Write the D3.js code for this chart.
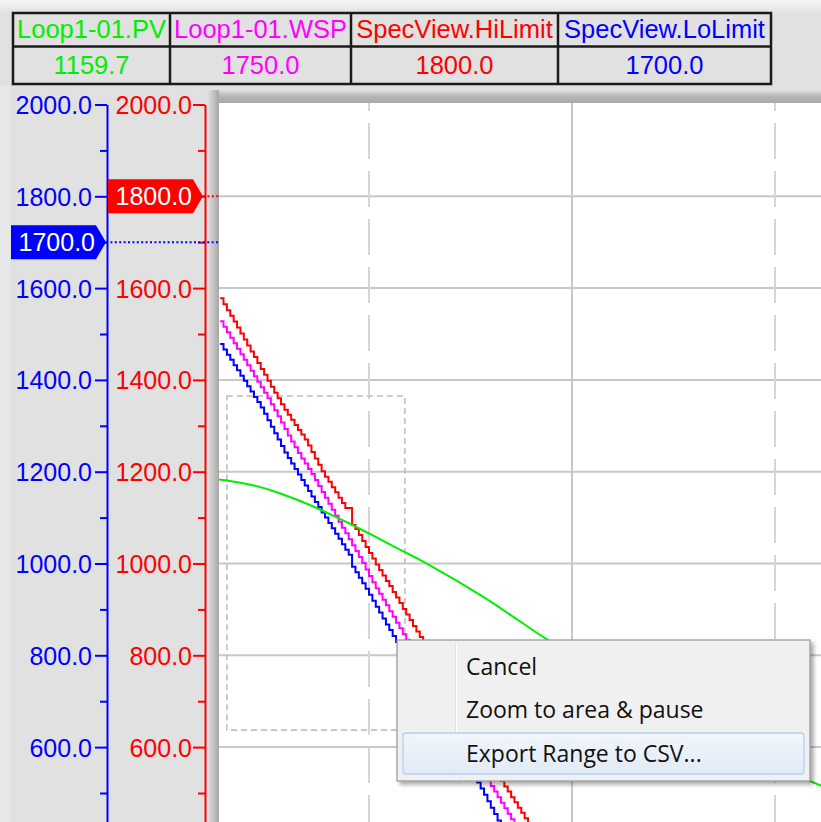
<!DOCTYPE html>
<html>
<head>
<meta charset="utf-8">
<script src="https://cdn.jsdelivr.net/npm/d3@7/dist/d3.min.js"></script>
<style>
  html, body { margin: 0; padding: 0; background: #e1e1e1; overflow: hidden; }
  svg { display: block; }
</style>
</head>
<body>
<svg id="chart" width="821" height="822"></svg>
<script>
// ---- Tags shown in the value table ----
const tagNames  = ["Loop1-01.PV", "Loop1-01.WSP", "SpecView.HiLimit", "SpecView.LoLimit"];
const tagValues = [1159.7, 1750.0, 1800.0, 1700.0];
const tagColors = ["#00ee00", "#ff00ff", "#ff0000", "#0000ff"];

// ---- Value axes ----
const yMajorTicks = [2000, 1800, 1600, 1400, 1200, 1000, 800, 600];
const yMinorTicks = [1900, 1700, 1500, 1300, 1100, 900, 700, 500];
const hiMarkerValue = 1800.0;
const loMarkerValue = 1700.0;

// ---- Time grid (seconds) ----
const timeMajor = [0, 120, 240];
const timeMinor = [60, 180];

// ---- Trend samples, one per second starting at sampleStart ----
const sampleStart = 16;
const hiLimit = [
  1578, 1565, 1552, 1540, 1527, 1514, 1501, 1488, 1475,
  1462, 1450, 1437, 1424, 1411, 1398, 1385, 1372, 1360, 1347,
  1335, 1324, 1313, 1302, 1291, 1281, 1270, 1257, 1243, 1229,
  1215, 1201, 1189, 1178, 1166, 1155, 1143, 1132, 1121, 1121,
  1084, 1075, 1062, 1049, 1036, 1023, 1011, 998, 986, 974,
  962, 951, 938, 926, 914, 901, 889, 877, 864, 852,
  840, 827, 814, 801, 788, 775, 761, 748, 735, 722,
  709, 696, 683, 670, 657, 644, 631, 617, 604, 591,
  578, 565, 552, 539, 526, 514, 503, 491, 480, 468,
  457, 445, 434, 422, 411
];
const wsp = [
  1528, 1516, 1504, 1492, 1480, 1468, 1456, 1444, 1432,
  1420, 1408, 1396, 1384, 1372, 1360, 1347, 1334, 1321, 1307,
  1293, 1279, 1266, 1253, 1241, 1229, 1218, 1206, 1195, 1182,
  1169, 1156, 1143, 1130, 1117, 1104, 1091, 1078, 1066, 1053,
  1040, 1027, 1014, 1001, 987, 973, 959, 946, 934, 921,
  909, 896, 884, 871, 859, 846, 834, 821, 808, 796,
  783, 770, 757, 745, 732, 719, 706, 694, 681, 668,
  656, 643, 630, 617, 605, 592, 579, 566, 554, 541,
  528, 515, 503, 491, 479, 467, 455, 443, 431, 419
];
const loLimit = [
  1478, 1466, 1455, 1444, 1432, 1421, 1409, 1398, 1386,
  1375, 1363, 1352, 1340, 1326, 1312, 1298, 1284, 1270, 1256,
  1242, 1230, 1218, 1206, 1194, 1182, 1170, 1158, 1146, 1134,
  1123, 1111, 1100, 1088, 1077, 1065, 1054, 1042, 1030, 1019,
  993, 981, 969, 957, 945, 932, 919, 906, 893, 880,
  867, 855, 842, 829, 816, 803, 791, 778, 765, 752,
  740, 727, 714, 701, 689, 676, 663, 650, 638, 625,
  612, 599, 587, 574, 561, 548, 536, 523, 510, 496,
  482, 468, 454, 440, 426, 412
];

// Process value, logged every 4 s
const pvTimes = [
  14, 18, 22, 26, 30, 34, 38, 42, 46, 50,
  54, 58, 62, 66, 70, 74, 78, 82, 86, 90,
  94, 98, 102, 106, 110, 114, 118, 122, 126, 130,
  134, 138, 142, 146, 150, 154, 158, 162, 166, 170,
  174, 178, 182, 186, 190, 194, 198
];
const pvValues = [
  1184, 1181, 1176, 1170, 1162, 1152, 1141, 1129, 1116, 1102,
  1088, 1073, 1058, 1042, 1027, 1012, 996, 979, 962, 944,
  926, 907, 887, 867, 847, 828, 809, 790, 772, 754,
  736, 719, 702, 685, 669, 653, 637, 622, 607, 592,
  578, 564, 551, 539, 527, 515, 504
];

// Rubber-band range selected by the user (time in s, value)
const selection = { t0: 18.0, t1: 70.6, vTop: 1365, vBottom: 637 };

// Context menu entries (last one hovered)
const menuItems = ["Cancel", "Zoom to area & pause", "Export Range to CSV..."];

// ---------------------------------------------------------------
const svg = d3.select("#chart");
const W = 821, H = 822;
const FONT = "'Liberation Sans', Arial, sans-serif";

const plot = { left: 219, top: 103, right: W, bottom: H };

const x = d3.scaleLinear().domain([0, 240]).range([166, 978]);
const y = d3.scaleLinear().domain([400, 2000]).range([838.9, 104.5]);

const defs = svg.append("defs");

// background
svg.append("rect").attr("width", W).attr("height", H).attr("fill", "#e1e1e1");
const topFade = defs.append("linearGradient").attr("id", "topFade")
  .attr("x1", 0).attr("y1", 0).attr("x2", 0).attr("y2", 1);
topFade.append("stop").attr("offset", 0).attr("stop-color", "#f7f7f7");
topFade.append("stop").attr("offset", 1).attr("stop-color", "#e3e3e3");
svg.append("rect").attr("width", W).attr("height", 12).attr("fill", "url(#topFade)");
svg.append("rect").attr("x", 0).attr("y", 86).attr("width", 10).attr("height", H - 86).attr("fill", "#e8e8e8");

// ---- value table ----
const colEdges = [13, 170, 351, 558, 771];
const rowEdges = [13, 46.5, 84];
const table = svg.append("g");
table.append("rect")
  .attr("x", colEdges[0]).attr("y", rowEdges[0])
  .attr("width", colEdges[4] - colEdges[0]).attr("height", rowEdges[2] - rowEdges[0])
  .attr("fill", "#e1e1e1");
tagNames.forEach((name, i) => {
  const cx = (colEdges[i] + colEdges[i + 1]) / 2;
  table.append("text").attr("x", cx).attr("y", 37.5)
    .attr("text-anchor", "middle").attr("font-family", FONT).attr("font-size", 25.5)
    .attr("fill", tagColors[i]).text(name);
  table.append("text").attr("x", cx).attr("y", 73.5)
    .attr("text-anchor", "middle").attr("font-family", FONT).attr("font-size", 25.5)
    .attr("fill", tagColors[i]).text(d3.format(".1f")(tagValues[i]));
});
const tableLines = table.append("g").attr("stroke", "#1a1a1a").attr("stroke-width", 2.5).attr("fill", "none");
tableLines.append("rect")
  .attr("x", colEdges[0]).attr("y", rowEdges[0])
  .attr("width", colEdges[4] - colEdges[0]).attr("height", rowEdges[2] - rowEdges[0]);
tableLines.append("line").attr("x1", colEdges[0]).attr("x2", colEdges[4]).attr("y1", rowEdges[1]).attr("y2", rowEdges[1]);
colEdges.slice(1, 4).forEach(cx => {
  tableLines.append("line").attr("x1", cx).attr("x2", cx).attr("y1", rowEdges[0]).attr("y2", rowEdges[2]);
});

// ---- sunken frame around the trend area ----
const gL = defs.append("linearGradient").attr("id", "frameL").attr("x1", 0).attr("x2", 1).attr("y1", 0).attr("y2", 0);
gL.append("stop").attr("offset", 0).attr("stop-color", "#e1e1e1");
gL.append("stop").attr("offset", 0.55).attr("stop-color", "#c2c2c2");
gL.append("stop").attr("offset", 1).attr("stop-color", "#a6a6a6");
const gT = defs.append("linearGradient").attr("id", "frameT").attr("x1", 0).attr("x2", 0).attr("y1", 0).attr("y2", 1);
gT.append("stop").attr("offset", 0).attr("stop-color", "#e1e1e1");
gT.append("stop").attr("offset", 0.45).attr("stop-color", "#b8b8b8");
gT.append("stop").attr("offset", 1).attr("stop-color", "#a8a8a8");
svg.append("rect").attr("x", 207).attr("y", 90).attr("width", W - 207).attr("height", plot.top - 90).attr("fill", "url(#frameT)");
svg.append("rect").attr("x", 207).attr("y", 90).attr("width", plot.left - 207).attr("height", H - 90).attr("fill", "url(#frameL)");
svg.append("rect").attr("x", plot.left).attr("y", plot.top)
  .attr("width", plot.right - plot.left).attr("height", plot.bottom - plot.top).attr("fill", "#ffffff");

defs.append("clipPath").attr("id", "plotClip").append("rect")
  .attr("x", plot.left).attr("y", plot.top)
  .attr("width", plot.right - plot.left).attr("height", plot.bottom - plot.top);

const area = svg.append("g").attr("clip-path", "url(#plotClip)");

// grid
area.append("g").selectAll("line").data(yMajorTicks.filter(v => v < 2000)).join("line")
  .attr("x1", plot.left).attr("x2", plot.right)
  .attr("y1", d => y(d)).attr("y2", d => y(d))
  .attr("stroke", "#c8c8c8").attr("stroke-width", 2);
area.append("g").selectAll("line").data(timeMajor).join("line")
  .attr("x1", d => x(d)).attr("x2", d => x(d))
  .attr("y1", plot.top).attr("y2", plot.bottom)
  .attr("stroke", "#c8c8c8").attr("stroke-width", 2);
area.append("g").selectAll("line").data(timeMinor).join("line")
  .attr("x1", d => x(d)).attr("x2", d => x(d))
  .attr("y1", plot.top).attr("y2", plot.bottom)
  .attr("stroke", "#d6d6d6").attr("stroke-width", 2)
  .attr("stroke-dasharray", "36,12").attr("stroke-dashoffset", 28);

// selection rubber band
area.append("rect")
  .attr("x", x(selection.t0)).attr("y", y(selection.vTop))
  .attr("width", x(selection.t1) - x(selection.t0))
  .attr("height", y(selection.vBottom) - y(selection.vTop))
  .attr("fill", "none").attr("stroke", "#bfbfbf").attr("stroke-width", 1.6)
  .attr("stroke-dasharray", "6,4");

// trend pens
const stepLine = d3.line()
  .x((d, i) => x(sampleStart + i))
  .y(d => y(d))
  .curve(d3.curveStepAfter);
[[hiLimit, tagColors[2]], [wsp, tagColors[1]], [loLimit, tagColors[3]]].forEach(([vals, col]) => {
  area.append("path").datum(vals).attr("d", stepLine)
    .attr("fill", "none").attr("stroke", col).attr("stroke-width", 2)
    .attr("stroke-linejoin", "miter");
});
const pvLine = d3.line().x((d, i) => x(pvTimes[i])).y(d => y(d));
area.append("path").datum(pvValues).attr("d", pvLine)
  .attr("fill", "none").attr("stroke", tagColors[0]).attr("stroke-width", 2);

// ---- value axes ----
const fmt = d3.format(".1f");
function drawAxis(xPos, color, labelPad) {
  const g = svg.append("g").attr("transform", `translate(${xPos},0)`);
  const major = d3.axisLeft(y).tickValues(yMajorTicks).tickSize(12).tickSizeOuter(0)
    .tickPadding(labelPad).tickFormat(fmt);
  g.call(major);
  g.select(".domain").attr("stroke", color).attr("stroke-width", 2);
  g.selectAll(".tick line").attr("stroke", color).attr("stroke-width", 2);
  g.selectAll(".tick text")
    .attr("fill", color).attr("font-family", FONT).attr("font-size", 25)
    .attr("dy", null).attr("dominant-baseline", null).attr("y", 9);
  const minor = svg.append("g").attr("transform", `translate(${xPos},0)`)
    .call(d3.axisLeft(y).tickValues(yMinorTicks).tickSize(7).tickSizeOuter(0).tickFormat(""));
  minor.select(".domain").remove();
  minor.selectAll(".tick line").attr("stroke", color).attr("stroke-width", 2);
  return g;
}
const blueAxisX = 107, redAxisX = 205;
drawAxis(blueAxisX, tagColors[3], 3);
drawAxis(redAxisX, tagColors[2], 1);

// limit markers with dotted leaders
function limitMarker(value, left, tipX, color, leaderFrom) {
  const yy = y(value);
  svg.append("line")
    .attr("x1", leaderFrom).attr("x2", plot.left)
    .attr("y1", yy).attr("y2", yy)
    .attr("stroke", color).attr("stroke-width", 2).attr("stroke-dasharray", "2,2.4");
  const h = 17;
  const shoulder = tipX - 10;
  svg.append("path")
    .attr("d", `M${left},${yy - h}H${shoulder}L${tipX},${yy}L${shoulder},${yy + h}H${left}Z`)
    .attr("fill", color);
  svg.append("text")
    .attr("x", shoulder - 1).attr("y", yy + 9)
    .attr("text-anchor", "end").attr("font-family", FONT).attr("font-size", 25)
    .attr("fill", "#ffffff").text(fmt(value));
}
limitMarker(hiMarkerValue, 108, 203, tagColors[2], 203);
limitMarker(loMarkerValue, 11, 106, tagColors[3], 106);

// ---- context menu ----
const shadow = defs.append("filter").attr("id", "menuShadow")
  .attr("x", "-5%").attr("y", "-5%").attr("width", "115%").attr("height", "120%");
shadow.append("feDropShadow").attr("dx", 3).attr("dy", 3).attr("stdDeviation", 2.2)
  .attr("flood-color", "#000").attr("flood-opacity", 0.35);

const menu = { x: 397, y: 640, w: 413, h: 141 };
const mg = svg.append("g");
mg.append("rect").attr("x", menu.x).attr("y", menu.y).attr("width", menu.w).attr("height", menu.h)
  .attr("fill", "#f0f0f0").attr("stroke", "#979797").attr("stroke-width", 1.2)
  .attr("filter", "url(#menuShadow)");
mg.append("line").attr("x1", 455.5).attr("x2", 455.5).attr("y1", menu.y + 3).attr("y2", menu.y + menu.h - 3)
  .attr("stroke", "#e2e3e3").attr("stroke-width", 1);
mg.append("line").attr("x1", 456.5).attr("x2", 456.5).attr("y1", menu.y + 3).attr("y2", menu.y + menu.h - 3)
  .attr("stroke", "#ffffff").attr("stroke-width", 1);

const hl = defs.append("linearGradient").attr("id", "hover").attr("x1", 0).attr("x2", 0).attr("y1", 0).attr("y2", 1);
hl.append("stop").attr("offset", 0).attr("stop-color", "#f2f6fc");
hl.append("stop").attr("offset", 1).attr("stop-color", "#e1eaf7");
mg.append("rect").attr("x", 403).attr("y", 733).attr("width", 401).attr("height", 41).attr("rx", 3)
  .attr("fill", "url(#hover)").attr("stroke", "#b3d0f3").attr("stroke-width", 1.3);

const baselines = [675, 718, 762];
menuItems.forEach((label, i) => {
  mg.append("text").attr("x", 466).attr("y", baselines[i])
    .attr("font-family", "'Open Sans', 'Noto Sans', sans-serif").attr("font-size", 23)
    .attr("fill", "#111").text(label);
});
</script>
</body>
</html>
